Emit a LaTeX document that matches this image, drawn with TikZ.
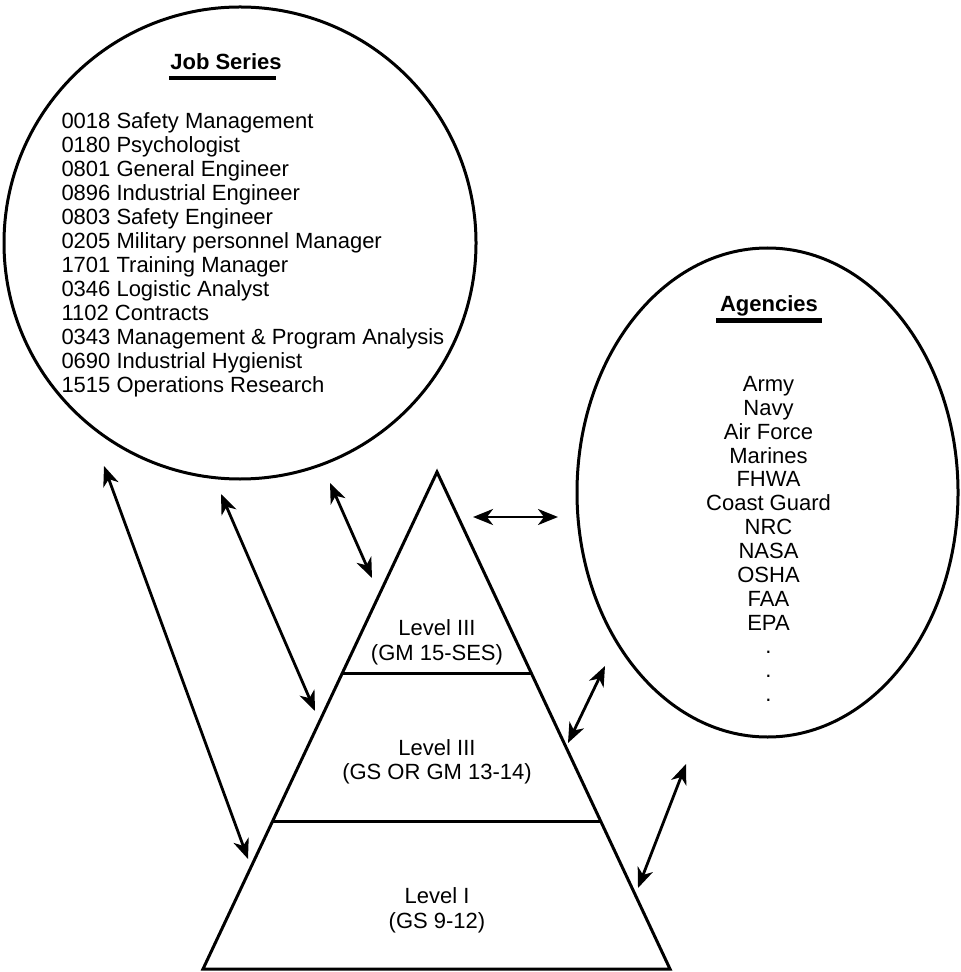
\documentclass[tikz,border=0pt]{standalone}
\usepackage{fontspec}
\setmainfont{Liberation Sans}
\usetikzlibrary{shapes.geometric,arrows.meta,calc}
\begin{document}
\begin{tikzpicture}[x=0.5pt,y=-0.5pt,
  line width=1.5pt,
  >={Stealth[length=10pt,width=8pt,inset=3pt]},
  txt/.style={font=\fontsize{11pt}{12pt}\selectfont, inner sep=0pt, anchor=base},
  ttl/.style={font=\fontsize{11pt}{12pt}\selectfont\bfseries, inner sep=0pt, anchor=base},
  link/.style={<->, line width=1.4pt},
  uline/.style={fill=black, draw=none}
]
\useasboundingbox (0,0) rectangle (961,972);

% Job Series circle
\node[circle, draw, minimum size=236pt, inner sep=0pt] (jobs) at (240,243) {};
\node[ttl] (jobtitle) at (226,70) {Job Series};
\fill[uline] (169,76) rectangle (276,80.5);
\foreach \t [count=\i from 0] in {0018 Safety Management,0180 Psychologist,0801 General Engineer,0896 Industrial Engineer,0803 Safety Engineer,0205 Military personnel Manager,1701 Training Manager,0346 Logistic Analyst,1102 Contracts,0343 Management \& Program Analysis,0690 Industrial Hygienist,1515 Operations Research}
  \node[txt, anchor=base west] (job\i) at (60,129+24*\i) {\t};

% Agencies ellipse
\node[ellipse, draw, minimum width=190.5pt, minimum height=244.5pt, inner sep=0pt] (agencies) at (767.5,492.5) {};
\node[ttl] (agtitle) at (769,312) {Agencies};
\fill[uline] (716,318.5) rectangle (822,323);
\foreach \t [count=\i from 0] in {Army,Navy,Air Force,Marines,FHWA,Coast Guard,NRC,NASA,OSHA,FAA,EPA,.,.,.}
  \node[txt] (ag\i) at (768.5,391.5+23.85*\i) {\t};

% Pyramid
\coordinate (apex) at (437,472);
\coordinate (bl) at (203,969);
\coordinate (br) at (670,969);
\draw[line join=miter] (bl) -- (apex) -- (br) -- cycle;
\draw ($(apex)!0.4064!(bl)$) -- ($(apex)!0.4064!(br)$);
\draw ($(apex)!0.7042!(bl)$) -- ($(apex)!0.7042!(br)$);
\node[txt] (l3a) at (437,635) {Level III};
\node[txt] (l3b) at (437,660) {(GM 15-SES)};
\node[txt] (l2a) at (437,755) {Level III};
\node[txt] (l2b) at (437,779.5) {(GS OR GM 13-14)};
\node[txt] (l1a) at (437,903) {Level I};
\node[txt] (l1b) at (437,928) {(GS 9-12)};

% Arrow end points
\coordinate (a1s) at (104,466);  \coordinate (a1e) at (248,859);
\coordinate (a2s) at (221,494);  \coordinate (a2e) at (315,711);
\coordinate (a3s) at (330,483);  \coordinate (a3e) at (372,578);
\coordinate (a4s) at (473,517);  \coordinate (a4e) at (558,517);
\coordinate (a5s) at (605,666);  \coordinate (a5e) at (568,743);
\coordinate (a6s) at (686,764);  \coordinate (a6e) at (638,888);
\draw[link] (a1s) -- (a1e);
\draw[link] (a2s) -- (a2e);
\draw[link] (a3s) -- (a3e);
\draw[link] (a4s) -- (a4e);
\draw[link] (a5s) -- (a5e);
\draw[link] (a6s) -- (a6e);
\end{tikzpicture}
\end{document}
